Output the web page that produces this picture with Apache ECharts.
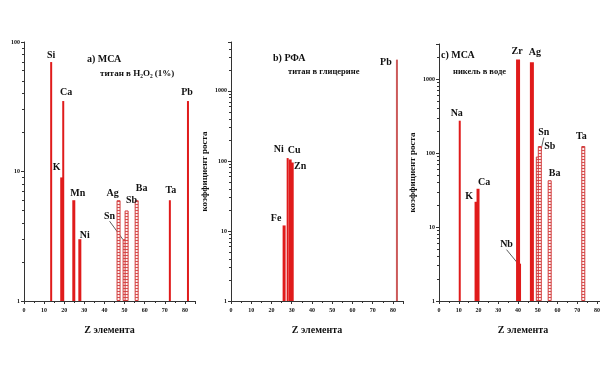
<!DOCTYPE html>
<html><head><meta charset="utf-8">
<script src="https://cdn.jsdelivr.net/npm/echarts@6/dist/echarts.min.js"></script>
<style>html,body{margin:0;padding:0;background:#fff}#c{width:600px;height:372px}</style>
</head><body><div id="c"></div>
<script>
// ---- data ----
const elementsA = ['Si','K','Ca','Mn','Ni','Ag','Sn','Sb','Ba','Ta','Pb'];
const zA = [14,19,20,25,28,47,50,51,56,73,82];
const valuesA = [70,9,35,6,3,6,3,5,6,6,35];

const elementsB = ['Fe','Ni','Cu','Zn','Pb'];
const zB = [26,28,29,30,82];
const valuesB = [12,110,105,95,2800];

const elementsC = ['Na','K','Ca','Zr','Nb','Ag','Sn','Sb','Ba','Ta'];
const zC = [11,19,20,40,41,47,50,51,56,73];
const valuesC = [275,22,33,1850,3.2,1700,90,125,43,125];

const titlesA = ['a) МСА', 'титан в H₂O₂ (1%)'];
const titlesB = ['b) РФА', 'титан в глицерине'];
const titlesC = ['c) МСА', 'никель в воде'];
const xName = 'Z элемента';
const yName = 'коэффициент роста';

// ---- styles (kept apart from data) ----
const styleA = {Si:'thin',K:'mid',Ca:'thin',Mn:'mid',Ni:'mid',Ag:'hatch',Sn:'hatch',Sb:'hatch',Ba:'hatch',Ta:'thin',Pb:'thin'};
const styleB = {Fe:'mid',Ni:'thin',Cu:'mid',Zn:'mid',Pb:'light'};
const styleC = {Na:'thin',K:'mid',Ca:'mid',Zr:'wide',Nb:'mid',Ag:'wide',Sn:'hatch',Sb:'hatch',Ba:'hatch',Ta:'hatch'};
const labelOffA = {Si:[0,0],K:[-5,-3],Ca:[3,-2],Mn:[4,0],Ni:[5,3],Ag:[-6,0],Sn:[-15,-16],Sb:[5,-3],Ba:[5,-5],Ta:[1,-3],Pb:[-1,-2]};
const labelOffB = {Fe:[-8,0],Ni:[-9,-2],Cu:[4,-2],Zn:[8,11],Pb:[-11,10]};
const labelOffC = {Na:[-3,0],K:[-7,2],Ca:[6,1],Zr:[-1,-1],Nb:[-13,-12],Ag:[3,-3],Sn:[6,-17],Sb:[10,7],Ba:[5,0],Ta:[-2,-3]};
const leaderA = ['Sn'];
const leaderC = ['Nb','Sn'];

const RED = '#e01b1b';
const FONT = 'Liberation Serif';

function hatchPattern(){
  const c = document.createElement('canvas');
  c.width = 4; c.height = 3;
  const g = c.getContext('2d');
  g.fillStyle = '#fdf1f1'; g.fillRect(0,0,4,3);
  g.fillStyle = '#d65050'; g.fillRect(0,0,4,1);
  return c;
}
const HATCH = hatchPattern();
const kinds = {
  thin:  {w:2, color:RED},
  mid:   {w:3, color:RED},
  wide:  {w:4, color:RED},
  light: {w:2, color:'#cc5a5a'},
  hatch: {w:4, color:{image:HATCH, repeat:'repeat'}, border:'#d23c3c'}
};

function panelSeries(idx, names, zs, vals, style, offs, leaders){
  const groups = {};
  names.forEach((n,i)=>{
    const k = style[n];
    (groups[k] = groups[k] || []).push(i);
  });
  return Object.keys(groups).map(k=>{
    const kd = kinds[k];
    const idxs = groups[k];
    return {
      type:'bar', xAxisIndex:idx, yAxisIndex:idx,
      barWidth:kd.w, barGap:'-100%',
      itemStyle:{color:kd.color, borderColor:kd.border||null, borderWidth:kd.border?1:0},
      label:{show:true, position:'top', distance:2, formatter:'{b}',
             fontFamily:FONT, fontWeight:'bold', fontSize:10, color:'#111'},
      labelLine:{show:false, lineStyle:{color:'#333', width:0.8}},
      labelLayout:function(p){ const o = offs[names[idxs[p.dataIndex]]]; return {dx:o[0], dy:o[1]}; },
      data: idxs.map(i=>({
        name:names[i], value:[zs[i], vals[i]],
        labelLine:{show: leaders.indexOf(names[i])>=0}
      })),
      silent:true, animation:false
    };
  });
}

const grids = [
  {left:24, top:42, width:171, height:259, outerBoundsMode:'none'},
  {left:231, top:42, width:172, height:259, outerBoundsMode:'none'},
  {left:439, top:44, width:168, height:257, outerBoundsMode:'none'}
];
const yMax = [100, 5000, 3000];

function xAxis(i){
  return {type:'value', gridIndex:i, min:0, max:85, interval:10,
    name:xName, nameLocation:'middle', nameGap:24,
    nameTextStyle:{fontFamily:FONT, fontWeight:'bold', fontSize:10, color:'#111'},
    axisLine:{lineStyle:{color:'#333'}},
    axisTick:{length:3, lineStyle:{color:'#333'}},
    minorTick:{show:true, splitNumber:2, length:2, lineStyle:{color:'#333'}},
    axisLabel:{fontFamily:FONT, fontWeight:'bold', fontSize:6, color:'#111', margin:6,
      formatter:v => (v % 10 === 0 ? String(v) : '')},
    splitLine:{show:false}};
}
function yAxis(i){
  return {type:'log', gridIndex:i, min:1, max:yMax[i], logBase:10,
    name: i===0 ? '' : yName, nameLocation:'middle', nameGap:22,
    nameTextStyle:{fontFamily:FONT, fontWeight:'bold', fontSize:9, color:'#111'},
    axisLine:{show:true, lineStyle:{color:'#333'}},
    axisTick:{length:3, lineStyle:{color:'#333'}},
    minorTick:{show:true, splitNumber:9, length:2, lineStyle:{color:'#333'}},
    axisLabel:{fontFamily:FONT, fontWeight:'bold', fontSize:6, color:'#111', margin:4,
      formatter:v => { const l = Math.log10(v); return Math.abs(l - Math.round(l)) < 1e-6 ? String(Math.round(v)) : ''; }},
    splitLine:{show:false}};
}

function titles(t, l1, t1, l2, t2, s2){
  return [
    {text:t[0], left:l1, top:t1, textStyle:{fontFamily:FONT, fontWeight:'bold', fontSize:10, color:'#111'}, padding:0},
    {text:t[1], left:l2, top:t2, textStyle:{fontFamily:FONT, fontWeight:'bold', fontSize:s2, color:'#111'}, padding:0}
  ];
}

const chart = echarts.init(document.getElementById('c'), null, {renderer:'canvas'});
chart.setOption({
  backgroundColor:'#fff',
  animation:false,
  title:[].concat(
    titles(titlesA, 87, 54, 100, 69, 9),
    titles(titlesB, 273, 53, 288, 67, 8.5),
    titles(titlesC, 441, 50, 453, 67, 8.5)
  ),
  grid:grids,
  xAxis:[0,1,2].map(xAxis),
  yAxis:[0,1,2].map(yAxis),
  series:[].concat(
    panelSeries(0, elementsA, zA, valuesA, styleA, labelOffA, leaderA),
    panelSeries(1, elementsB, zB, valuesB, styleB, labelOffB, []),
    panelSeries(2, elementsC, zC, valuesC, styleC, labelOffC, leaderC)
  )
});
</script></body></html>
